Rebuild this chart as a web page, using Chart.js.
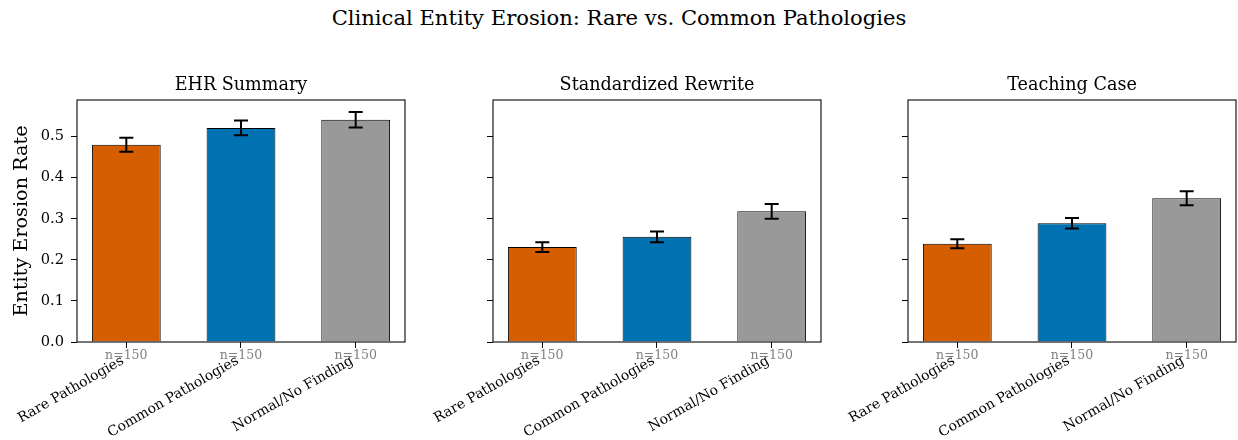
<!DOCTYPE html>
<html>
<head>
<meta charset="utf-8">
<script src="https://cdn.jsdelivr.net/npm/chart.js@4/dist/chart.umd.min.js"></script>
<style>
  html, body { margin: 0; padding: 0; width: 1238px; height: 440px; overflow: hidden; background: #fff; }
  #suptitle { position: absolute; left: 0; top: 6px; width: 1238px; text-align: center;
    font-family: 'DejaVu Serif', serif; font-size: 21.1px; line-height: 24px; color: #000; }
  canvas { position: absolute; top: 0; }
</style>
</head>
<body>
<div id="suptitle">Clinical Entity Erosion: Rare vs. Common Pathologies</div>
<canvas id="c0" width="420" height="440" style="left:0px"></canvas>
<canvas id="c1" width="420" height="440" style="left:416px"></canvas>
<canvas id="c2" width="420" height="440" style="left:831px"></canvas>
<script>
// ---- data ----
const categories = ['Rare Pathologies', 'Common Pathologies', 'Normal/No Finding'];
const panelTitles = ['EHR Summary', 'Standardized Rewrite', 'Teaching Case'];
const ehrValues = [0.480, 0.521, 0.541];
const ehrErrors = [0.017, 0.018, 0.019];
const stdValues = [0.231, 0.256, 0.318];
const stdErrors = [0.012, 0.013, 0.018];
const teachValues = [0.239, 0.289, 0.350];
const teachErrors = [0.011, 0.013, 0.017];
const sampleSizes = [150, 150, 150];
const yTicks = [0.0, 0.1, 0.2, 0.3, 0.4, 0.5];
const yAxisLabel = 'Entity Erosion Rate';
const barColors = ['#D55E00', '#0072B2', '#999999'];

const panelValues = [ehrValues, stdValues, teachValues];
const panelErrors = [ehrErrors, stdErrors, teachErrors];

const FONT = "'DejaVu Serif', serif";
Chart.defaults.font.family = FONT;

const decoPlugin = {
  id: 'deco',
  afterDatasetsDraw(chart) {
    const p = chart.options.plugins.deco;
    const { ctx, chartArea: a } = chart;
    const x = chart.scales.x, y = chart.scales.y;
    ctx.save();
    // error bars
    ctx.strokeStyle = '#000';
    ctx.lineWidth = 2;
    p.values.forEach((v, i) => {
      const cx = x.getPixelForValue(i);
      const t = y.getPixelForValue(v + p.errors[i]);
      const b = y.getPixelForValue(v - p.errors[i]);
      ctx.beginPath();
      ctx.moveTo(cx, t); ctx.lineTo(cx, b);
      ctx.moveTo(cx - 7, t); ctx.lineTo(cx + 7, t);
      ctx.moveTo(cx - 7, b); ctx.lineTo(cx + 7, b);
      ctx.stroke();
    });
    // frame
    ctx.lineWidth = 1.2;
    ctx.strokeStyle = '#1a1a1a';
    ctx.strokeRect(a.left, a.top, a.right - a.left, a.bottom - a.top);
    // panel title
    ctx.fillStyle = '#000';
    ctx.font = '17.6px ' + FONT;
    ctx.textAlign = 'center';
    ctx.textBaseline = 'alphabetic';
    ctx.fillText(p.title, (a.left + a.right) / 2, 90);
    // n labels
    ctx.fillStyle = '#808080';
    ctx.font = '12.5px ' + FONT;
    p.values.forEach((v, i) => {
      ctx.fillText('n=' + sampleSizes[i], x.getPixelForValue(i), 359);
    });
    // rotated category labels
    ctx.fillStyle = '#000';
    ctx.font = '13.9px ' + FONT;
    ctx.textAlign = 'right';
    categories.forEach((c, i) => {
      const cx = x.getPixelForValue(i);
      ctx.save();
      ctx.translate(cx - 1.7, 363);
      ctx.rotate(-Math.PI / 6);
      ctx.fillText(c, 0, 0);
      ctx.restore();
    });
    // y label
    if (p.showYLabel) {
      ctx.save();
      ctx.translate(22, (a.top + a.bottom) / 2);
      ctx.rotate(-Math.PI / 2);
      ctx.font = '19.2px ' + FONT;
      ctx.textAlign = 'center';
      ctx.textBaseline = 'middle';
      ctx.fillText(yAxisLabel, 0, 0);
      ctx.restore();
    }
    ctx.restore();
  }
};

function makePanel(idx) {
  const values = panelValues[idx];
  const ctx = document.getElementById('c' + idx);
  return new Chart(ctx, {
    type: 'bar',
    data: {
      datasets: [{
        data: values.map((v, i) => ({ x: i, y: v })),
        backgroundColor: barColors,
        borderColor: '#000',
        borderWidth: 1,
        categoryPercentage: 1,
        barPercentage: 0.6
      }]
    },
    options: {
      responsive: false,
      animation: false,
      events: [],
      layout: { padding: { left: 0, right: 15, top: 100, bottom: 0 } },
      plugins: {
        legend: { display: false },
        tooltip: { enabled: false },
        title: { display: false },
        deco: { values: values, errors: panelErrors[idx], title: panelTitles[idx], showYLabel: idx === 0 }
      },
      scales: {
        x: {
          type: 'linear',
          min: -0.43, max: 2.43,
          offset: false,
          afterBuildTicks(s) { s.ticks = categories.map((c, i) => ({ value: i })); },
          afterFit(s) { s.height = 98; },
          ticks: { display: false },
          border: { display: false },
          grid: { display: true, offset: false, drawOnChartArea: false, drawTicks: true, tickLength: 6, color: '#000', lineWidth: 1 }
        },
        y: {
          type: 'linear',
          min: 0, max: 0.589,
          afterBuildTicks(s) { s.ticks = yTicks.map(v => ({ value: v })); },
          afterFit(s) { s.width = 77; },
          ticks: {
            display: idx === 0,
            padding: 7,
            color: '#000',
            font: { size: 14.6, family: FONT },
            callback: (v) => Number(v).toFixed(1)
          },
          border: { display: false },
          grid: { display: true, offset: false, drawOnChartArea: false, drawTicks: true, tickLength: 6, color: '#000', lineWidth: 1 }
        }
      }
    },
    plugins: [decoPlugin]
  });
}
[0, 1, 2].forEach(makePanel);
</script>
</body>
</html>
